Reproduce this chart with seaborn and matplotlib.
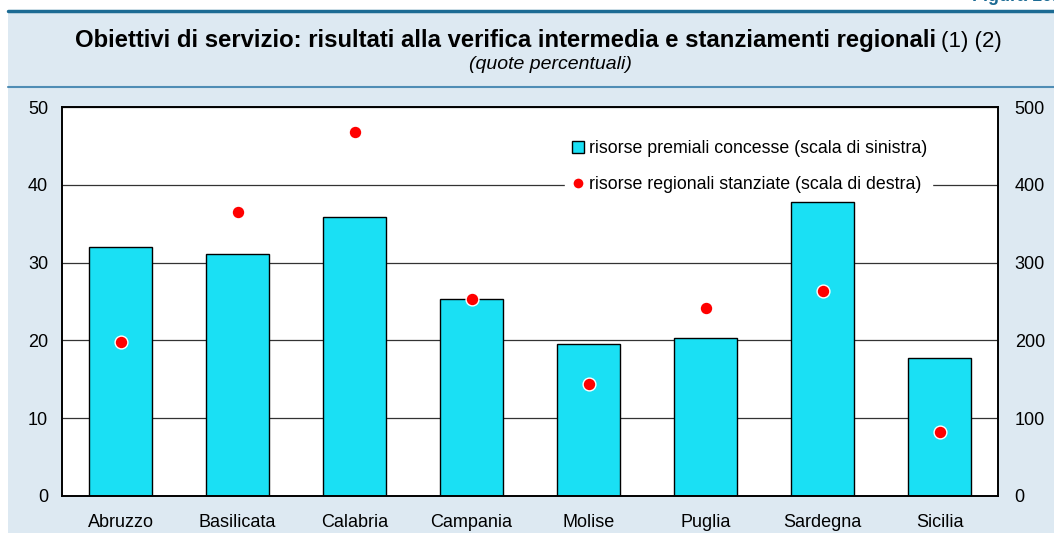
import numpy as np
import seaborn as sns
import matplotlib.pyplot as plt
from matplotlib.patches import Rectangle
from matplotlib.lines import Line2D

# dati (quote percentuali)
regioni = ['Abruzzo', 'Basilicata', 'Calabria', 'Campania', 'Molise', 'Puglia', 'Sardegna', 'Sicilia']
premiali = [32.0, 31.1, 35.9, 25.3, 19.5, 20.3, 37.8, 17.7]      # scala di sinistra
stanziate = [198, 365, 468, 253, 144, 242, 264, 82]              # scala di destra
yticks_sx = [0, 10, 20, 30, 40, 50]
yticks_dx = [0, 100, 200, 300, 400, 500]

sns.set_style('white')
plt.rcParams['font.family'] = ['Liberation Sans', 'DejaVu Sans']
plt.rcParams['text.color'] = 'black'
plt.rcParams['xtick.color'] = 'black'
plt.rcParams['ytick.color'] = 'black'

bg = '#dde9f2'
ciano = '#1ae0f4'

fig = plt.figure(figsize=(10.54, 5.33), dpi=100)
fig.patch.set_facecolor('white')
# pannello azzurro
fig.patches.append(Rectangle((8 / 1054, 0), 1, (533 - 11) / 533, transform=fig.transFigure,
                             facecolor=bg, edgecolor='none', zorder=-10))
fig.add_artist(Line2D([8 / 1054, 1], [(533 - 11) / 533] * 2, color='#1c6b94', lw=2.5))
fig.add_artist(Line2D([8 / 1054, 1], [(533 - 87) / 533] * 2, color='#4f8db5', lw=1.5))
fig.text(1.003, (533 - 5) / 533, 'Figura 10.', ha='right', va='bottom', color='#1c6b94',
         fontsize=13, fontweight='bold')

# titolo
fig.text(0.888, (533 - 41) / 533, 'Obiettivi di servizio: risultati alla verifica intermedia e stanziamenti regionali',
         ha='right', va='center', fontsize=17.2, fontweight='bold')
fig.text(0.893, (533 - 41) / 533, '(1) (2)', ha='left', va='center', fontsize=16)
fig.text(0.522, (533 - 64) / 533, '(quote percentuali)', ha='center', va='center',
         fontsize=14, style='italic')

ax = fig.add_axes([62 / 1054, (533 - 496) / 533, (998 - 62) / 1054, (496 - 107) / 533])
ax.set_facecolor('white')
sns.barplot(x=regioni, y=premiali, color=ciano, saturation=1, edgecolor='black',
            linewidth=1, width=0.53, ax=ax, zorder=2)
ax.set_ylim(0, 50)
ax.set_xlim(-0.5, len(regioni) - 0.5)
ax.set_yticks(yticks_sx)
ax.yaxis.grid(True, color='#333333', linewidth=0.9)
ax.set_axisbelow(True)
ax.tick_params(length=0, labelsize=13, pad=10)
ax.tick_params(axis='x', pad=13)
ax.set_xlabel('')
ax.set_ylabel('')
for s in ax.spines.values():
    s.set_color('black')
    s.set_linewidth(1.2)

ax2 = ax.twinx()
sns.scatterplot(x=np.arange(len(regioni)), y=stanziate, color='red', s=85,
                edgecolor='white', linewidth=1, ax=ax2, zorder=3)
ax2.set_ylim(0, 500)
ax2.set_yticks(yticks_dx)
ax2.tick_params(length=0, labelsize=13, pad=12)
ax2.set_ylabel('')
for s in ax2.spines.values():
    s.set_color('black')
    s.set_linewidth(1.2)

handles = [
    Line2D([], [], marker='s', linestyle='none', markersize=9, markerfacecolor=ciano,
           markeredgecolor='black', markeredgewidth=1),
    Line2D([], [], marker='o', linestyle='none', markersize=8, markerfacecolor='red',
           markeredgecolor='white'),
]
leg = ax2.legend(handles, ['risorse premiali concesse (scala di sinistra)',
                           'risorse regionali stanziate (scala di destra)'],
                 loc='upper right', bbox_to_anchor=(0.929, 0.926), frameon=True,
                 fontsize=12.8, handletextpad=0.1, handlelength=1.0, labelspacing=1.05,
                 borderpad=0.25, borderaxespad=0, fancybox=False)
leg.get_frame().set_facecolor('white')
leg.get_frame().set_edgecolor('white')
leg.get_frame().set_alpha(1)

fig.savefig('out.png', dpi=100, facecolor=fig.get_facecolor())
